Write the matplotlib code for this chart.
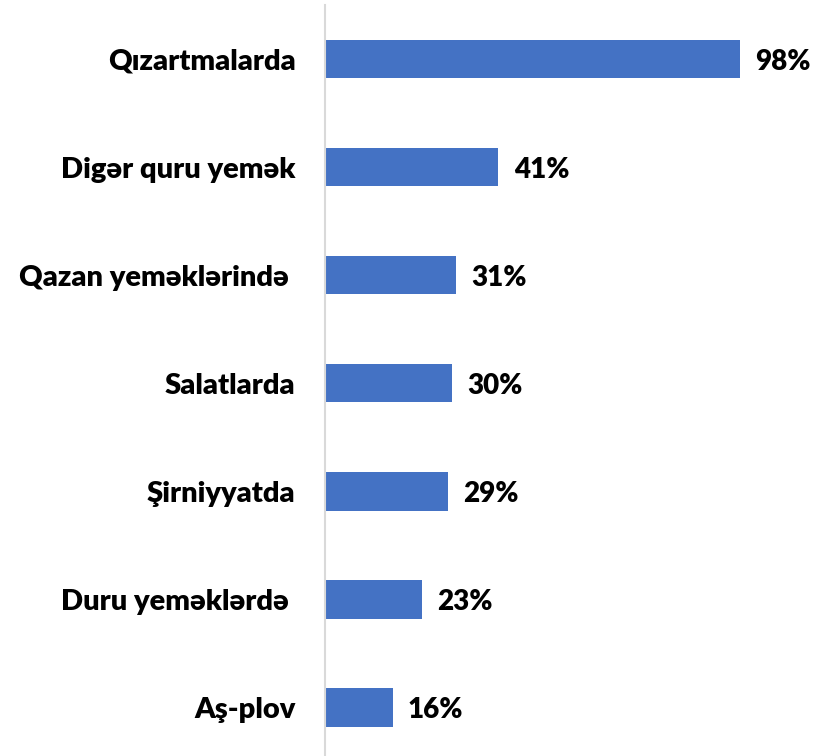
import matplotlib
matplotlib.use("Agg")
import matplotlib.pyplot as plt

categories = ["Qızartmalarda", "Digər quru yemək", "Qazan yeməklərində ",
              "Salatlarda", "Şirniyyatda", "Duru yeməklərdə ", "Aş-plov"]
values = [98, 41, 31, 30, 29, 23, 16]

plt.rcParams['font.family'] = ['Lato', 'DejaVu Sans']

fig = plt.figure(figsize=(8.16, 7.56), dpi=100)
ax = fig.add_axes([0.398, -0.0075, 0.597, 1.001])

pos = list(range(len(categories)))
ax.barh(pos, values, height=0.355, color="#4472C4")
ax.set_ylim(6.5, -0.5)
ax.set_xlim(0, 115)

for p, v in zip(pos, values):
    ax.annotate(f"{v}%", xy=(v, p), xytext=(11, -2), textcoords="offset points",
                ha="left", va="center", fontsize=20, fontweight="heavy", color="black")

ax.set_yticks(pos)
ax.set_yticklabels(categories, fontsize=21, fontweight="heavy")
ax.tick_params(axis="y", length=0, pad=21)
ax.set_xticks([])
for s in ["top", "right", "bottom"]:
    ax.spines[s].set_visible(False)
ax.spines["left"].set_color("#d9d9d9")
ax.spines["left"].set_linewidth(1.5)

fig.savefig("out.png", dpi=100)
